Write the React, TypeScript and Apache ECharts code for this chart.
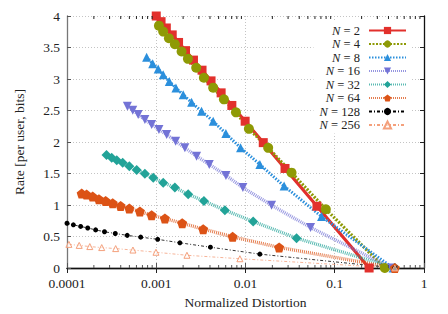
import React, { useEffect, useRef } from "react";
import * as echarts from "echarts";

const SERIES_NAMES = ["N = 2", "N = 4", "N = 8", "N = 16", "N = 32", "N = 64", "N = 128", "N = 256"];
const X_TICK_LABELS = ["0.0001", "0.001", "0.01", "0.1", "1"];
const X_TICK_VALUES = [0.0001, 0.001, 0.01, 0.1, 1];
const Y_TICK_LABELS = ["0", "0.5", "1", "1.5", "2", "2.5", "3", "3.5", "4"];
const MINOR_TICKS = [
  0.0002, 0.0003, 0.0004, 0.0005, 0.0006, 0.0007, 0.0008, 0.0009,
  0.002, 0.003, 0.004, 0.005, 0.006, 0.007, 0.008, 0.009,
  0.02, 0.03, 0.04, 0.05, 0.06, 0.07, 0.08, 0.09,
  0.2, 0.3, 0.4, 0.5, 0.6, 0.7, 0.8, 0.9,
];

const D_N2 = [0.001, 0.001132, 0.001297, 0.00151, 0.001778, 0.002128, 0.002612, 0.003258, 0.004111, 0.005333, 0.007031, 0.009908, 0.01581, 0.02773, 0.06324, 0.2427];
const R_N2 = [4.0, 3.91, 3.81, 3.7, 3.58, 3.45, 3.3, 3.14, 2.97, 2.78, 2.58, 2.33, 1.99, 1.58, 0.98, 0];

const D_N4 = [0.001072, 0.001197, 0.001387, 0.001618, 0.001923, 0.002265, 0.002805, 0.00342, 0.004345, 0.005728, 0.007816, 0.01091, 0.01795, 0.03281, 0.07943, 0.3639];
const R_N4 = [3.847, 3.752, 3.647, 3.553, 3.436, 3.32, 3.178, 3.02, 2.862, 2.677, 2.471, 2.209, 1.908, 1.513, 0.933, 0];

const D_N8 = [0.00078, 0.000912, 0.001052, 0.001197, 0.0014, 0.001663, 0.002004, 0.002489, 0.003221, 0.004345, 0.006026, 0.00881, 0.01449, 0.0271, 0.07112, 0.4508];
const R_N8 = [3.347, 3.241, 3.157, 3.067, 2.961, 2.857, 2.751, 2.629, 2.487, 2.329, 2.134, 1.908, 1.644, 1.301, 0.817, 0];

const D_N16 = [0.000475, 0.000545, 0.000628, 0.000746, 0.000887, 0.001072, 0.001306, 0.001648, 0.002094, 0.002831, 0.003926, 0.00604, 0.00935, 0.01959, 0.05358, 0.4325];
const R_N16 = [2.566, 2.503, 2.435, 2.356, 2.277, 2.198, 2.119, 2.013, 1.908, 1.775, 1.644, 1.47, 1.276, 0.996, 0.643, 0];

const D_N32 = [0.000277, 0.000317, 0.000361, 0.000421, 0.000499, 0.000604, 0.000746, 0.000925, 0.001197, 0.001618, 0.00228, 0.00342, 0.005875, 0.01219, 0.03733, 0.471];
const R_N32 = [1.794, 1.75, 1.712, 1.671, 1.617, 1.554, 1.497, 1.434, 1.355, 1.276, 1.17, 1.064, 0.917, 0.738, 0.474, 0];

const D_N64 = [0.000146, 0.000166, 0.000194, 0.000228, 0.000271, 0.000325, 0.000399, 0.000499, 0.000656, 0.000887, 0.00125, 0.001954, 0.003357, 0.007178, 0.02382, 0.471];
const R_N64 = [1.181, 1.165, 1.134, 1.091, 1.064, 1.028, 0.985, 0.944, 0.896, 0.838, 0.786, 0.711, 0.617, 0.495, 0.327, 0];

const D_N128 = [0.0001, 0.0001178, 0.0001422, 0.0001706, 0.0002094, 0.000263, 0.0003475, 0.0004732, 0.0006699, 0.001038, 0.001841, 0.004046, 0.01449, 0.471];
const R_N128 = [0.71, 0.685, 0.66, 0.635, 0.605, 0.575, 0.548, 0.518, 0.49, 0.455, 0.4, 0.33, 0.22, 0];

const D_N256 = [0.000105, 0.000137, 0.00018, 0.000245, 0.000351, 0.000548, 0.000993, 0.002208, 0.00865, 0.471];
const R_N256 = [0.375, 0.359, 0.34, 0.324, 0.308, 0.285, 0.25, 0.202, 0.147, 0];

const SERIES_D = [D_N2, D_N4, D_N8, D_N16, D_N32, D_N64, D_N128, D_N256];
const SERIES_R = [R_N2, R_N4, R_N8, R_N16, R_N32, R_N64, R_N128, R_N256];

const PENTAGON = "path://M0,-1 L0.951,-0.309 L0.588,0.809 L-0.588,0.809 L-0.951,-0.309 Z";

const STYLES = [
  { color: "#e2302c", type: "solid", width: 3.2, symbol: "rect", size: 9, rotate: 0, opacity: 1, hollow: false },
  { color: "#8e9a05", type: [2, 1.5], width: 3.2, symbol: "circle", size: 10, rotate: 0, opacity: 1, hollow: false },
  { color: "#2b8fdc", type: [1.5, 1.5], width: 3, symbol: "triangle", size: 9, rotate: 0, opacity: 1, hollow: false },
  { color: "#7373d6", type: [1, 1], width: 3.4, symbol: "triangle", size: 9, rotate: 180, opacity: 0.75, hollow: false },
  { color: "#22a398", type: [1, 1], width: 3.4, symbol: "diamond", size: 10, rotate: 0, opacity: 0.75, hollow: false },
  { color: "#dc5316", type: [1, 1], width: 3.4, symbol: PENTAGON, size: 10, rotate: 0, opacity: 0.75, hollow: false },
  { color: "#000000", type: [3, 2, 1, 2], width: 0.8, symbol: "circle", size: 5, rotate: 0, opacity: 1, hollow: false },
  { color: "#f4a07c", type: [3, 2, 1, 2], width: 0.8, symbol: "triangle", size: 6, rotate: 0, opacity: 1, hollow: true },
];

const FONT = "Liberation Serif";
const FS = 13.5;
const LFS = 12.5;

function legendLabel(name: string): string {
  const num = name.replace("N = ", "");
  const pad = 3 - num.length;
  return `{s${pad}| }{i|N}{r| = ${num}}`;
}

export default function App() {
  const ref = useRef<HTMLDivElement>(null);
  useEffect(() => {
    if (!ref.current) return;
    const chart = echarts.init(ref.current, undefined, { renderer: "svg" });
    const lineSeries = SERIES_NAMES.map((name, k) => {
      const st = STYLES[k];
      return {
        name,
        type: "line",
        xAxisIndex: 0,
        yAxisIndex: 0,
        data: SERIES_D[k].map((d, i) => [d, SERIES_R[k][i]]),
        symbol: st.symbol,
        symbolSize: st.size,
        symbolRotate: st.rotate,
        showAllSymbol: true,
        lineStyle: { color: st.color, width: st.width, type: st.type, opacity: st.opacity },
        itemStyle: st.hollow
          ? { color: "rgba(255,255,255,0.6)", borderColor: st.color, borderWidth: 1 }
          : { color: st.color, borderColor: st.color, borderWidth: 0, opacity: 1 },
        emphasis: { disabled: true },
        silent: true,
      };
    });
    const minorSeries = {
      type: "custom",
      xAxisIndex: 0,
      yAxisIndex: 0,
      silent: true,
      data: MINOR_TICKS.map((v) => [v, 0]),
      renderItem: (_params: any, api: any) => {
        const v = api.value(0);
        const b = api.coord([v, 0]);
        const t = api.coord([v, 4]);
        return {
          type: "group",
          children: [
            { type: "line", shape: { x1: b[0], y1: b[1], x2: b[0], y2: b[1] - 3 }, style: { stroke: "#555", lineWidth: 1 } },
            { type: "line", shape: { x1: t[0], y1: t[1], x2: t[0], y2: t[1] + 3 }, style: { stroke: "#222", lineWidth: 1 } },
          ],
        };
      },
      z: 5,
    };
    const rich: any = {
      s0: { width: 0, fontSize: LFS, lineHeight: 13 },
      s1: { width: 6.2, fontSize: LFS, lineHeight: 13 },
      s2: { width: 12.4, fontSize: LFS, lineHeight: 13 },
      i: { fontStyle: "italic", fontFamily: FONT, fontSize: LFS, color: "#222", lineHeight: 13 },
      r: { fontFamily: FONT, fontSize: LFS, color: "#222", lineHeight: 13 },
    };
    chart.setOption({
      animation: false,
      backgroundColor: "#ffffff",
      textStyle: { fontFamily: FONT },
      grid: { left: 67, right: 24, top: 16, bottom: 45 },
      legend: {
        data: SERIES_NAMES,
        orient: "vertical",
        align: "right",
        right: 38,
        top: 22,
        padding: [2, 3, 2, 3],
        itemWidth: 37,
        itemHeight: 9,
        itemGap: 0.5,
        selectedMode: false,
        backgroundColor: "#ffffff",
        formatter: legendLabel,
        textStyle: { fontFamily: FONT, fontSize: LFS, color: "#222", rich, lineHeight: 13, padding: [0, 4, 0, 0] },
      },
      xAxis: [
        {
          type: "log",
          logBase: 10,
          min: 0.0001,
          max: 1,
          position: "bottom",
          name: "Normalized Distortion",
          nameLocation: "middle",
          nameGap: 27,
          nameTextStyle: { fontFamily: FONT, fontSize: FS, color: "#222" },
          axisLine: { lineStyle: { color: "#777", width: 1.3 } },
          axisTick: { inside: true, length: 5, lineStyle: { color: "#555" } },
          axisLabel: {
            margin: 8,
            fontFamily: FONT,
            fontSize: FS,
            color: "#222",
            formatter: (v: number) => {
              const idx = X_TICK_VALUES.findIndex((t) => Math.abs(Math.log10(t) - Math.log10(v)) < 1e-6);
              return idx >= 0 ? X_TICK_LABELS[idx] : "";
            },
          },
          splitLine: { show: true, lineStyle: { color: "#c4c4c4", type: [1, 2], width: 1 } },
        },
        {
          type: "log",
          logBase: 10,
          min: 0.0001,
          max: 1,
          position: "top",
          axisLine: { lineStyle: { color: "#111", width: 1.3 } },
          axisTick: { inside: true, length: 5, lineStyle: { color: "#222" } },
          axisLabel: { show: false },
          splitLine: { show: false },
        },
      ],
      yAxis: [
        {
          type: "value",
          min: 0,
          max: 4,
          interval: 0.5,
          position: "left",
          name: "Rate [per user, bits]",
          nameLocation: "middle",
          nameGap: 41,
          nameTextStyle: { fontFamily: FONT, fontSize: FS, color: "#222" },
          axisLine: { show: true, lineStyle: { color: "#777", width: 1.3 } },
          axisTick: { show: true, inside: true, length: 4, lineStyle: { color: "#555" } },
          axisLabel: {
            margin: 7,
            fontFamily: FONT,
            fontSize: FS,
            color: "#222",
            formatter: (v: number) => Y_TICK_LABELS[Math.round(v / 0.5)] ?? "",
          },
          splitLine: { show: true, lineStyle: { color: "#c4c4c4", type: [1, 2], width: 1 } },
        },
        {
          type: "value",
          min: 0,
          max: 4,
          interval: 0.5,
          position: "right",
          axisLine: { show: true, lineStyle: { color: "#111", width: 1.3 } },
          axisTick: { show: true, inside: true, length: 4, lineStyle: { color: "#222" } },
          axisLabel: { show: false },
          splitLine: { show: false },
        },
      ],
      series: [minorSeries, ...lineSeries],
    });
    return () => chart.dispose();
  }, []);
  return <div ref={ref} style={{ position: "fixed", left: 0, top: 0, width: 448, height: 314 }} />;
}
